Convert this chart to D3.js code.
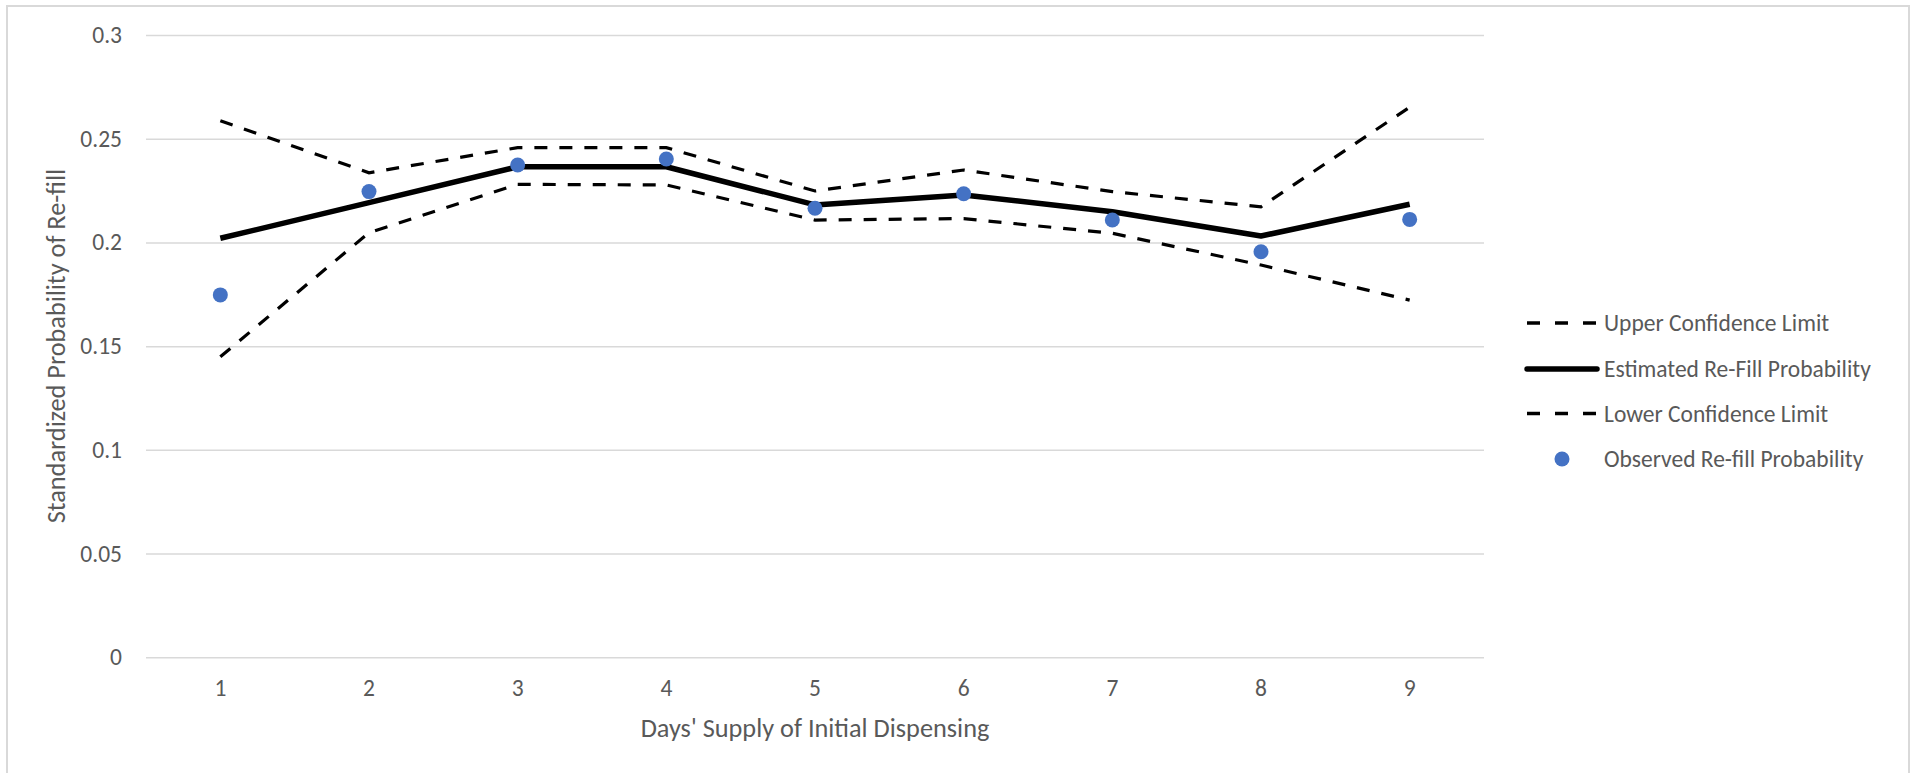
<!DOCTYPE html>
<html>
<head>
<meta charset="utf-8">
<script src="https://cdn.jsdelivr.net/npm/d3@7/dist/d3.min.js"></script>
<style>
  html, body { margin: 0; padding: 0; background: #ffffff; }
  svg { display: block; }
  text { font-family: Carlito, Calibri, Lato, "Liberation Sans", sans-serif; fill: #595959; }
</style>
</head>
<body>
<svg id="chart" width="1912" height="773"></svg>
<script>
const days = [1, 2, 3, 4, 5, 6, 7, 8, 9];
const upperLimit = [0.2587, 0.2336, 0.2457, 0.2457, 0.2248, 0.2349, 0.2245, 0.2172, 0.2652];
const estimated  = [0.2020, 0.2192, 0.2365, 0.2365, 0.2181, 0.2229, 0.2148, 0.2031, 0.2184];
const lowerLimit = [0.1449, 0.2047, 0.2280, 0.2277, 0.2108, 0.2115, 0.2044, 0.1891, 0.1722];
const observed   = [0.1747, 0.2245, 0.2373, 0.2402, 0.2165, 0.2235, 0.2108, 0.1955, 0.2111];
const yTicks = [0, 0.05, 0.1, 0.15, 0.2, 0.25, 0.3];
const yTickLabels = ["0", "0.05", "0.1", "0.15", "0.2", "0.25", "0.3"];
const xTitle = "Days' Supply of Initial Dispensing";
const yTitle = "Standardized Probability of Re-fill";
const seriesNames = ["Upper Confidence Limit", "Estimated Re-Fill Probability", "Lower Confidence Limit", "Observed Re-fill Probability"];

const svg = d3.select("#chart");
const plot = { left: 146, right: 1484, top: 35, bottom: 657.3 };
const FS = 23.5;      // tick labels and legend
const FS_TITLE = 26.3; // axis titles

// chart border
svg.append("rect")
  .attr("x", 7).attr("y", 6).attr("width", 1902).attr("height", 800)
  .attr("fill", "#ffffff").attr("stroke", "#d9d9d9").attr("stroke-width", 2);

const x = d3.scaleBand().domain(days).range([plot.left, plot.right]);
const cx = d => x(d) + x.bandwidth() / 2;
const y = d3.scaleLinear().domain([0, 0.3]).range([plot.bottom, plot.top]);

// gridlines
const grid = svg.append("g")
  .attr("transform", `translate(${plot.left},0)`)
  .call(d3.axisLeft(y).tickValues(yTicks).tickSize(-(plot.right - plot.left)).tickFormat(""));
grid.select(".domain").remove();
grid.selectAll("line").attr("stroke", "#d9d9d9").attr("stroke-width", 1.5);

// y axis labels
const yAxis = svg.append("g")
  .attr("transform", `translate(${plot.left},0)`)
  .call(d3.axisLeft(y).tickValues(yTicks).tickSize(0).tickPadding(24)
    .tickFormat((d, i) => yTickLabels[i]));
yAxis.select(".domain").remove();
yAxis.selectAll("text").attr("font-size", FS).attr("fill", "#595959")
  .style("font-family", "Carlito, Calibri, Lato, sans-serif");

// x axis labels
const xAxis = svg.append("g")
  .attr("transform", `translate(0,${plot.bottom})`)
  .call(d3.axisBottom(x).tickSize(0).tickPadding(22));
xAxis.select(".domain").remove();
xAxis.selectAll("text").attr("font-size", FS).attr("fill", "#595959")
  .style("font-family", "Carlito, Calibri, Lato, sans-serif");

// titles
svg.append("text")
  .attr("x", (plot.left + plot.right) / 2).attr("y", 728).attr("dy", "0.35em")
  .attr("text-anchor", "middle").attr("font-size", FS_TITLE).text(xTitle);
svg.append("text")
  .attr("transform", `translate(56,${(plot.top + plot.bottom) / 2}) rotate(-90)`)
  .attr("dy", "0.35em")
  .attr("text-anchor", "middle").attr("font-size", FS_TITLE).text(yTitle);

const line = d3.line().x((d, i) => cx(days[i])).y(d => y(d));
const DASH = "13,12";

svg.append("path").datum(upperLimit).attr("d", line)
  .attr("fill", "none").attr("stroke", "#000").attr("stroke-width", 3.2)
  .attr("stroke-dasharray", DASH);
svg.append("path").datum(estimated).attr("d", line)
  .attr("fill", "none").attr("stroke", "#000").attr("stroke-width", 5.5)
  .attr("stroke-linejoin", "round");
svg.append("path").datum(lowerLimit).attr("d", line)
  .attr("fill", "none").attr("stroke", "#000").attr("stroke-width", 3.2)
  .attr("stroke-dasharray", DASH);

svg.append("g").selectAll("circle").data(observed).join("circle")
  .attr("cx", (d, i) => cx(days[i])).attr("cy", d => y(d)).attr("r", 7.5)
  .attr("fill", "#4472c4");

// legend
const legY = [323, 369, 413.5, 459];
const leg = svg.append("g");
const lx0 = 1527, lx1 = 1597, tx = 1604;
leg.append("line").attr("x1", lx0).attr("x2", lx1).attr("y1", legY[0]).attr("y2", legY[0])
  .attr("stroke", "#000").attr("stroke-width", 3.5).attr("stroke-dasharray", "13,15");
leg.append("line").attr("x1", lx0).attr("x2", lx1).attr("y1", legY[1]).attr("y2", legY[1])
  .attr("stroke", "#000").attr("stroke-width", 5.5).attr("stroke-linecap", "round");
leg.append("line").attr("x1", lx0).attr("x2", lx1).attr("y1", legY[2]).attr("y2", legY[2])
  .attr("stroke", "#000").attr("stroke-width", 3.5).attr("stroke-dasharray", "13,15");
leg.append("circle").attr("cx", (lx0 + lx1) / 2).attr("cy", legY[3]).attr("r", 7.5).attr("fill", "#4472c4");
seriesNames.forEach((n, i) => {
  leg.append("text").attr("x", tx).attr("y", legY[i]).attr("dy", "0.35em")
    .attr("font-size", FS).text(n);
});
</script>
</body>
</html>
